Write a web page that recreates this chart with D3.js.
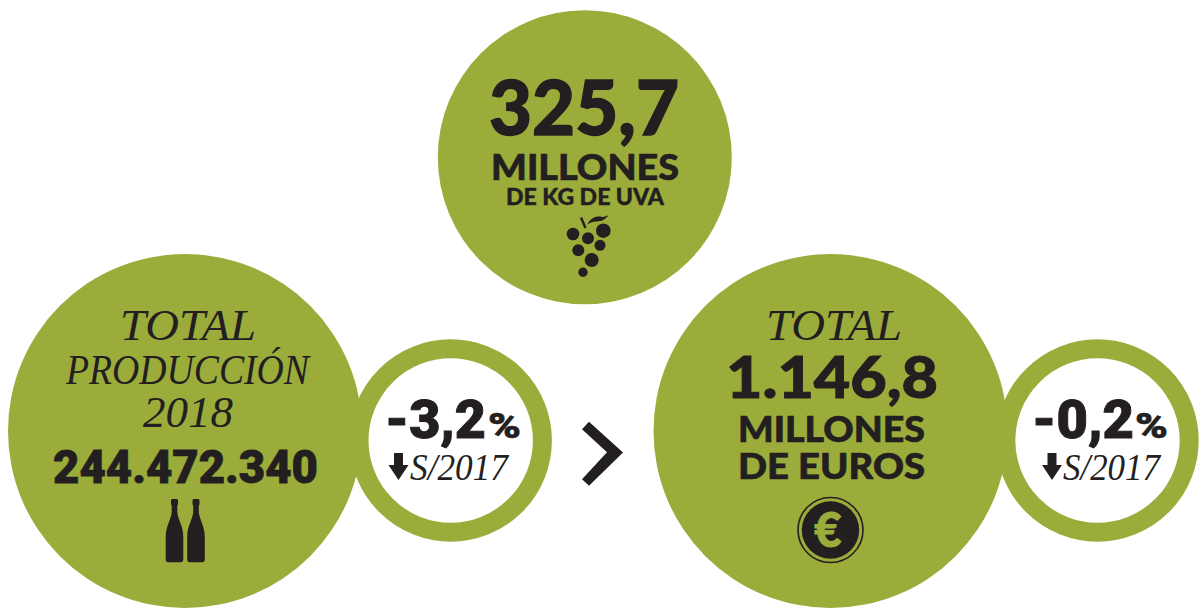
<!DOCTYPE html>
<html>
<head>
<meta charset="utf-8">
<script src="https://cdn.jsdelivr.net/npm/d3@7"></script>
<style>
  html, body { margin: 0; padding: 0; background: #fff; overflow: hidden; }
  svg { display: block; }
</style>
</head>
<body>
<svg id="chart" width="1199" height="610"></svg>
<script>
// values as printed in the picture
var grapeLines = ["325,7", "MILLONES", "DE KG DE UVA"];
var bottleLines = ["TOTAL", "PRODUCCIÓN", "2018", "244.472.340"];
var euroLines = ["TOTAL", "1.146,8", "MILLONES", "DE EUROS"];
var changeValues = ["-3,2", "-0,2"];
var changeUnit = "%";
var changeBase = "S/2017";
var euroSign = "€";

var green = "#9bac3b", ink = "#231f20";
var sans = "Lato, sans-serif", grot = "Roboto, sans-serif", serif = "'Liberation Serif', serif";
var svg = d3.select("#chart");

// big discs
var discs = [{x: 584.8, y: 157.3, r: 147}, {x: 185, y: 431, r: 177}, {x: 830.5, y: 431, r: 177}];
// rings with the change against 2017
var rings = [{x: 450.7, y: 440.5}, {x: 1097.5, y: 440.5}];

svg.selectAll("circle.ring").data(rings).enter().append("circle")
    .attr("class", "ring")
    .attr("cx", function(d) { return d.x; })
    .attr("cy", function(d) { return d.y; })
    .attr("r", 91.7)
    .attr("fill", "#fff")
    .attr("stroke", green)
    .attr("stroke-width", 19);

svg.selectAll("circle.disc").data(discs).enter().append("circle")
    .attr("class", "disc")
    .attr("cx", function(d) { return d.x; })
    .attr("cy", function(d) { return d.y; })
    .attr("r", function(d) { return d.r; })
    .attr("fill", green);

// x0, x1 = ink width, base = baseline, cap = cap height in px
function label(txt, x0, x1, base, cap, kind) {
  var isSerif = kind == "serif";
  var isGrot = kind == "grot";
  var t = svg.append("text")
      .attr("x", x0)
      .attr("y", base)
      .attr("textLength", x1 - x0)
      .attr("lengthAdjust", "spacingAndGlyphs")
      .attr("font-family", isSerif ? serif : isGrot ? grot : sans)
      .attr("font-style", isSerif ? "italic" : "normal")
      .attr("font-weight", isSerif ? 400 : 900)
      .attr("font-size", cap / (isSerif ? 0.655 : 0.72))
      .attr("fill", ink)
      .text(txt);
  // the original display face is heavier than Lato Black
  if (!isSerif) t.attr("stroke", ink).attr("stroke-width", cap * 0.025);
}

label(grapeLines[0], 489, 679, 135, 55);
label(grapeLines[1], 491, 679, 180, 26);
label(grapeLines[2], 506, 664, 205, 16);

label(bottleLines[0], 120, 256, 340, 29, "serif");
label(bottleLines[1], 66, 309, 384, 27, "serif");
label(bottleLines[2], 143, 233, 427, 29, "serif");
label(bottleLines[3], 53, 318, 483, 33, "grot");

label(euroLines[0], 766, 902, 340, 29, "serif");
label(euroLines[1], 726, 938, 398, 41);
label(euroLines[2], 738, 925, 441.5, 25.5);
label(euroLines[3], 738, 925, 479, 26);

label(changeValues[0], 385, 486, 438, 38, "grot");
label(changeUnit, 488, 521, 438, 25, "grot");
label(changeBase, 410, 508, 480, 25, "serif");
label(changeValues[1], 1032, 1134, 438, 38, "grot");
label(changeUnit, 1135, 1168, 438, 25, "grot");
label(changeBase, 1063, 1160, 480, 25, "serif");

// down arrows next to S/2017
rings.forEach(function(d, i) {
  var ax = [398.5, 1052][i];
  svg.append("path")
      .attr("fill", ink)
      .attr("d", "M" + (ax - 4.5) + " 453h9v12h5.5L" + ax + " 480 " + (ax - 10) + " 465h5.5z");
});

// grapes
var grapes = [[573, 234, 6.3], [588, 238.3, 6], [603.3, 230.7, 7.3], [578.3, 250.3, 6],
              [600, 245.3, 5.5], [591.7, 260, 7], [583, 272.3, 4.7]];
svg.selectAll("circle.grape").data(grapes).enter().append("circle")
    .attr("class", "grape")
    .attr("cx", function(d) { return d[0]; })
    .attr("cy", function(d) { return d[1]; })
    .attr("r", function(d) { return d[2]; })
    .attr("fill", ink);
svg.append("path")
    .attr("d", "M581 217.5L585.5 228")
    .attr("stroke", ink).attr("stroke-width", 2.4).attr("fill", "none");
svg.append("path")
    .attr("fill", ink)
    .attr("d", "M587.5 224.5C590 218 597 215.5 602 217C604.5 217 607 216 608.5 215.3C606 219 602 221.5 597 221.5C593 221.5 590 222.5 587.5 224.5z");

// bottles
[174.5, 196].forEach(function(bx) {
  svg.append("path")
      .attr("fill", ink)
      .attr("transform", "translate(" + bx + ",499)")
      .attr("d", "M-3.5 1.5Q-3.5 0 -2 0H2Q3.5 0 3.5 1.5V5.5L2.8 6.5V13C3.5 21 8.8 27 8.8 38V60.5Q8.8 63.3 6 63.3H-6Q-8.8 63.3 -8.8 60.5V38C-8.8 27 -3.5 21 -2.8 13V6.5L-3.5 5.5z");
});

// chevron
svg.append("path")
    .attr("fill", ink)
    .attr("d", "M589 421.7L623 452.5 589 485.7 582 479.3 607 452.3 582 429.3z");

// euro coin
svg.append("circle").attr("cx", 830.5).attr("cy", 530).attr("r", 32.5)
    .attr("fill", "none").attr("stroke", ink).attr("stroke-width", 1.6);
svg.append("circle").attr("cx", 830.5).attr("cy", 530).attr("r", 28.7).attr("fill", ink);
svg.append("text")
    .attr("x", 828).attr("y", 547)
    .attr("text-anchor", "middle")
    .attr("font-family", sans).attr("font-weight", 900).attr("font-size", 47)
    .attr("fill", green)
    .attr("stroke", green).attr("stroke-width", 1)
    .text(euroSign);
</script>
</body>
</html>
